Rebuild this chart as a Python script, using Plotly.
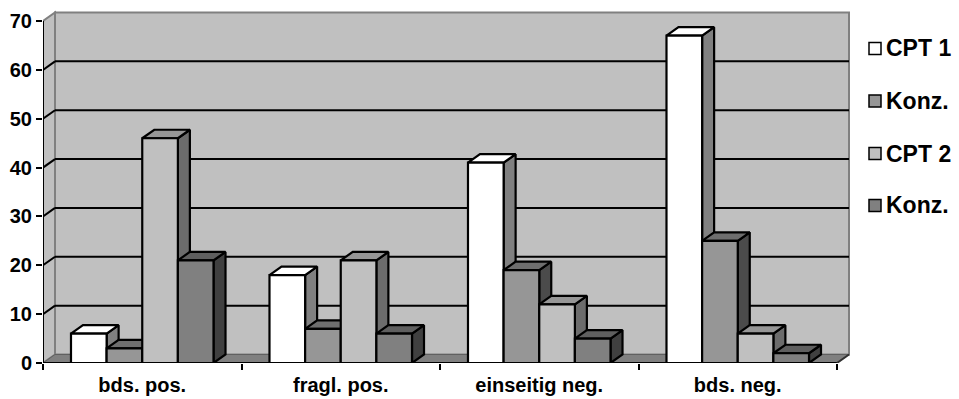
import plotly.graph_objects as go

# ---- data -------------------------------------------------------------
categories = ["bds. pos.", "fragl. pos.", "einseitig neg.", "bds. neg."]
series_names = ["CPT 1", "Konz.", "CPT 2", "Konz."]
cpt1 = [6, 18, 41, 67]
konz1 = [3, 7, 19, 25]
cpt2 = [46, 21, 12, 6]
konz2 = [21, 6, 5, 2]
y_ticks = [0, 10, 20, 30, 40, 50, 60, 70]

series_values = [cpt1, konz1, cpt2, konz2]

# face shading per series: front, top, side
front_colors = ["#FFFFFF", "#969696", "#C0C0C0", "#808080"]
top_colors = ["#FFFFFF", "#6E6E6E", "#969696", "#5F5F5F"]
side_colors = ["#808080", "#4B4B4B", "#6C6C6C", "#404040"]

# ---- geometry ---------------------------------------------------------
W, H = 959, 399
ML, MR, MT, MB = 43, 108, 10, 36
plot_w = W - ML - MR
plot_h = H - MT - MB
px_per_cat = 198.5
px_per_unit = 342.0 / 70.0
x_min = -0.5
x_max = x_min + plot_w / px_per_cat
y_max = plot_h / px_per_unit

# depth of the 3D box (in data units)
ddx = 12.0 / px_per_cat
ddy = 8.5 / px_per_unit
bar_w = 0.1795
y_top = y_ticks[-1]
n_cat = len(categories)
x_left = -0.5
x_right = n_cat - 0.5

fig = go.Figure()

# bars: for each series draw side, top and front faces (back-to-front order)
for s, vals in enumerate(series_values):
    sx, sy, tx, ty, fx, fy = [], [], [], [], [], []
    for i, v in enumerate(vals):
        xl = i + (s - 2) * bar_w
        xr = xl + bar_w
        sx += [xr, xr + ddx, xr + ddx, xr, xr, None]
        sy += [0, ddy, v + ddy, v, 0, None]
        tx += [xl, xr, xr + ddx, xl + ddx, xl, None]
        ty += [v, v, v + ddy, v + ddy, v, None]
        fx += [xl, xr, xr, xl, xl, None]
        fy += [0, 0, v, v, 0, None]
    for xs, ys, col in ((sx, sy, side_colors[s]), (tx, ty, top_colors[s]),
                        (fx, fy, front_colors[s])):
        fig.add_trace(go.Scatter(
            x=xs, y=ys, mode="lines", fill="toself", fillcolor=col,
            line=dict(color="black", width=2.2), hoverinfo="skip",
            showlegend=False, name=series_names[s]))

shapes = []
wall_gray = "#C0C0C0"
edge_gray = "#808080"

def path(points):
    return "M " + " L ".join(f"{x},{y}" for x, y in points) + " Z"

# back wall
shapes.append(dict(type="path", xref="x", yref="y", layer="below",
                   path=path([(x_left + ddx, ddy), (x_right + ddx, ddy),
                              (x_right + ddx, y_top + ddy), (x_left + ddx, y_top + ddy)]),
                   fillcolor=wall_gray, line=dict(color=edge_gray, width=2)))
# left side wall
shapes.append(dict(type="path", xref="x", yref="y", layer="below",
                   path=path([(x_left, 0), (x_left + ddx, ddy),
                              (x_left + ddx, y_top + ddy), (x_left, y_top)]),
                   fillcolor=wall_gray, line=dict(color=edge_gray, width=2)))
# floor
shapes.append(dict(type="path", xref="x", yref="y", layer="below",
                   path=path([(x_left, 0), (x_right, 0),
                              (x_right + ddx, ddy), (x_left + ddx, ddy)]),
                   fillcolor="#808080", line=dict(color="#606060", width=1)))
# gridlines on the back wall plus their run across the side wall
for v in y_ticks[1:-1]:
    shapes.append(dict(type="line", xref="x", yref="y", layer="below",
                       x0=x_left + ddx, y0=v + ddy, x1=x_right + ddx, y1=v + ddy,
                       line=dict(color="black", width=2)))
    shapes.append(dict(type="line", xref="x", yref="y", layer="below",
                       x0=x_left, y0=v, x1=x_left + ddx, y1=v + ddy,
                       line=dict(color="black", width=2)))
# axis lines
shapes.append(dict(type="line", xref="x", yref="y", x0=x_left, y0=0,
                   x1=x_left, y1=y_top, line=dict(color="black", width=2)))
shapes.append(dict(type="line", xref="x", yref="y", x0=x_left, y0=0,
                   x1=x_right, y1=0, line=dict(color="black", width=2)))
shapes.append(dict(type="line", xref="x", yref="y", x0=x_right, y0=0,
                   x1=x_right + ddx, y1=ddy, line=dict(color="#303030", width=2)))

# legend (drawn in pixel positions converted to paper coordinates)
def px_x(p):
    return (p - ML) / plot_w

def px_y(p):
    return (H - MB - p) / plot_h

legend_y = [48.5, 101, 153.5, 205.5]
annotations = []
for s, name in enumerate(series_names):
    cy = legend_y[s]
    shapes.append(dict(type="rect", xref="paper", yref="paper",
                       x0=px_x(869), x1=px_x(881), y0=px_y(cy + 6), y1=px_y(cy - 6),
                       fillcolor=front_colors[s], line=dict(color="black", width=1.5)))
    annotations.append(dict(xref="paper", yref="paper", x=px_x(884), y=px_y(cy),
                            xanchor="left", yanchor="middle", showarrow=False,
                            text=name,
                            font=dict(family="Liberation Sans, Arial", size=23,
                                      color="black", weight="bold")))

axis_font = dict(family="Liberation Sans, Arial", size=20, color="black", weight="bold")

fig.update_layout(
    width=W, height=H,
    margin=dict(l=ML, r=MR, t=MT, b=MB, pad=0, autoexpand=False),
    paper_bgcolor="white", plot_bgcolor="white",
    showlegend=False,
    shapes=shapes, annotations=annotations,
    xaxis=dict(range=[x_min, x_max], showgrid=False, zeroline=False, showline=False,
               automargin=False,
               tickmode="array", tickvals=list(range(n_cat)), ticktext=categories,
               ticks="", tickfont=axis_font, ticklabelstandoff=8,
               minor=dict(tickmode="array", tickvals=[i - 0.5 for i in range(n_cat + 1)],
                          ticks="outside", ticklen=6, tickwidth=2, tickcolor="black"),
               fixedrange=True),
    yaxis=dict(range=[0, y_max], showgrid=False, zeroline=False, showline=False,
               automargin=False,
               tickmode="array", tickvals=y_ticks, ticks="outside", ticklen=6,
               tickwidth=2, tickcolor="black", tickfont=axis_font, fixedrange=True),
)

fig.write_html("out.html")
